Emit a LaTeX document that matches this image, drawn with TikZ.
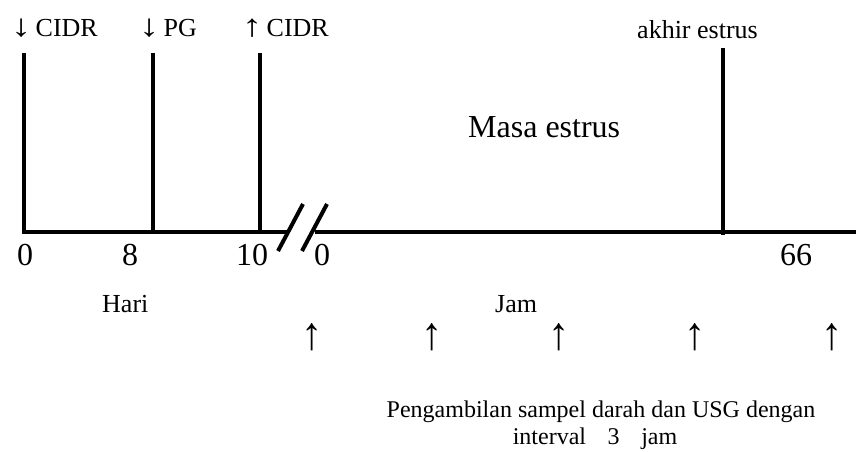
\documentclass[tikz,border=0pt]{standalone}
\usepackage{fontspec}
\setmainfont{Liberation Serif}
\newcommand\darr{\scalebox{1.55}[1.2]{↓}}
\newcommand\uarr{\scalebox{1.55}[1.2]{↑}}
\newcommand\tallarr{\scalebox{1.7}[1.85]{↑}}
\begin{document}
\begin{tikzpicture}[x=1pt,y=-1pt,
  thickline/.style={line width=4pt},
  thinline/.style={line width=3.5pt},
  lbl/.style={inner sep=0pt, anchor=base west, font=\fontsize{26}{30}\selectfont},
  num/.style={inner sep=0pt, anchor=base, font=\fontsize{32}{38}\selectfont},
  samp/.style={inner sep=0pt, anchor=base, font=\fontsize{25}{30}\selectfont},
  note/.style={inner sep=0pt, anchor=base, font=\fontsize{24}{28}\selectfont}]
\useasboundingbox (0,0) rectangle (856,452);
% axis coordinates
\coordinate (v1t) at (24,53);
\coordinate (v1b) at (24,232);
\coordinate (brkL) at (287,232);
\coordinate (v2t) at (153,53);
\coordinate (v2b) at (153,232);
\coordinate (v3t) at (260,53);
\coordinate (v3b) at (260,232);
\coordinate (brkR) at (315,232);
\coordinate (axend) at (856,232);
\coordinate (v4t) at (723,48);
\coordinate (v4b) at (723,235);
\coordinate (s1a) at (278,251);
\coordinate (s1b) at (303,204);
\coordinate (s2a) at (302,251);
\coordinate (s2b) at (327,204);
% lines
\draw[thickline] (v1t) -- (v1b) -- (brkL);
\draw[thickline] (v2t) -- (v2b);
\draw[thickline] (v3t) -- (v3b);
\draw[thinline] (brkR) -- (axend);
\draw[thickline] (v4t) -- (v4b);
\draw[thickline] (s1a) -- (s1b);
\draw[thickline] (s2a) -- (s2b);
% top labels
\node[lbl] (l1) at (11,37) {\darr\,CIDR};
\node[lbl] (l2) at (139,37) {\darr\,PG};
\node[lbl] (l3) at (242,37) {\uarr\,CIDR};
\node[lbl] (l4) at (637,38) {akhir estrus};
\node[inner sep=0pt, anchor=base west, font=\fontsize{32}{38}\selectfont] (masa) at (468,137) {Masa estrus};
% numbers
\node[num] (n0) at (25,265) {0};
\node[num] (n8) at (130,265) {8};
\node[num] (n10) at (252,265) {10};
\node[num] (m0) at (322,265) {0};
\node[num] (m66) at (796,265) {66};
% units
\node[lbl] (hari) at (102,312) {Hari};
\node[lbl] (jam) at (495,312) {Jam};
% sampling arrows
\foreach \x/\n in {312/a1,432/a2,559/a3,695/a4,832/a5}
  \node[samp] (\n) at (\x,349) {\tallarr};
% note
\node[note] (note1) at (601,417) {Pengambilan sampel darah dan USG dengan};
\node[note] (note2) at (595,444) {interval\hspace{0.9em}3\hspace{0.9em}jam};
\end{tikzpicture}
\end{document}
